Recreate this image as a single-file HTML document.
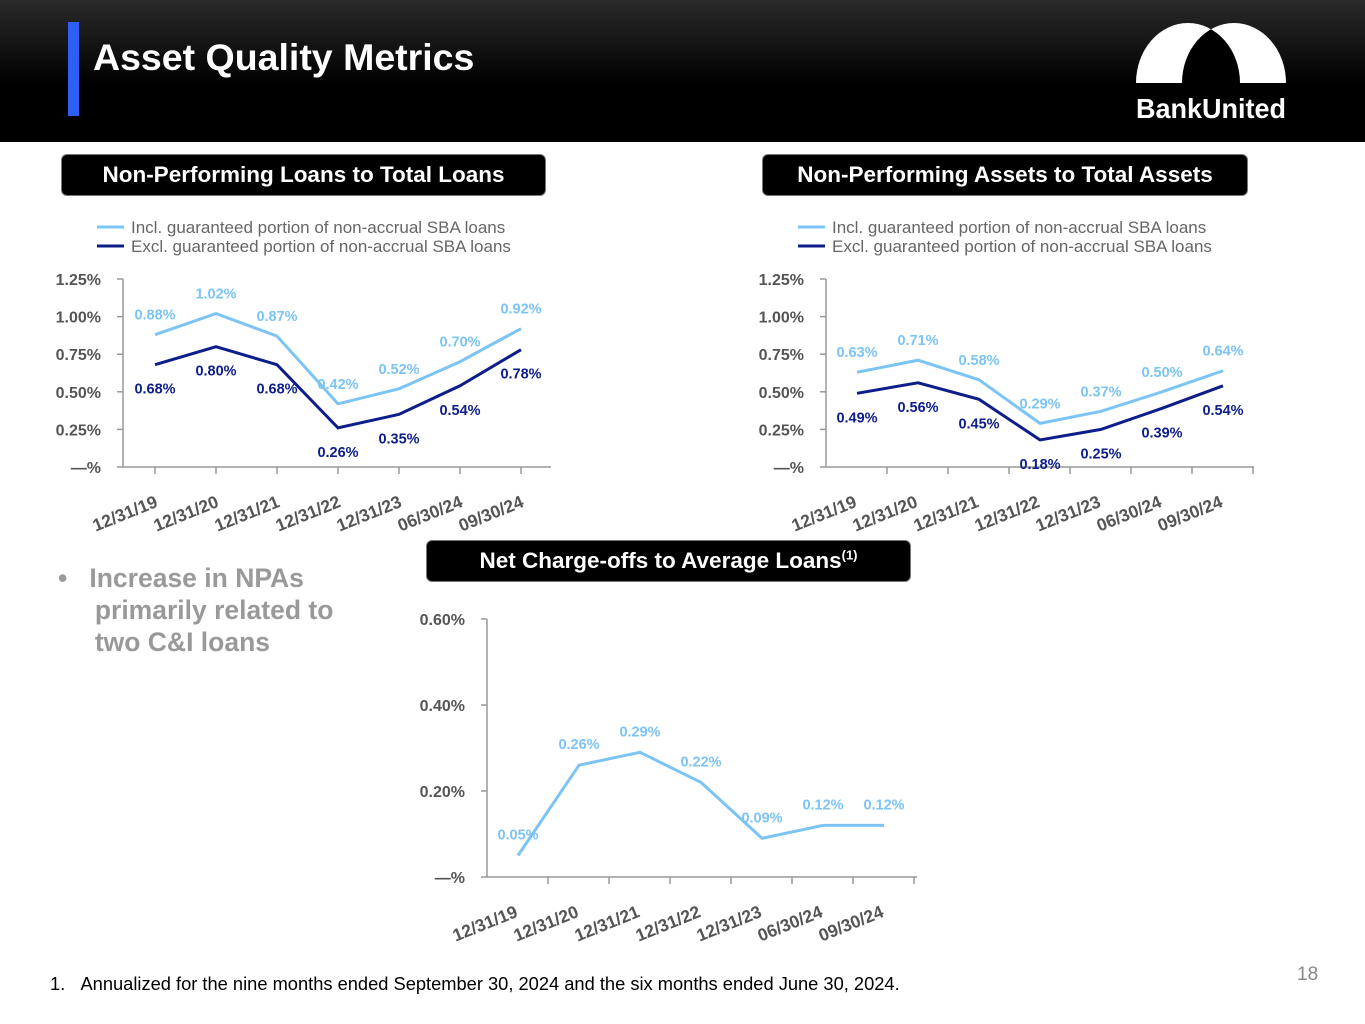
<!DOCTYPE html>
<html><head><meta charset="utf-8"><style>
body{margin:0;width:1365px;height:1024px;background:#fff;font-family:"Liberation Sans",Arial,sans-serif;position:relative;overflow:hidden}
.hdr{position:absolute;left:0;top:0;width:1365px;height:142px;background:linear-gradient(#2a2a2a,#000 60%)}
.bar{position:absolute;left:68px;top:22px;width:11px;height:94px;background:#2f5ef5}
.title{position:absolute;left:93px;top:36px;color:#fff;font-size:37.5px;font-weight:bold}
.box{position:absolute;height:42px;background:#000;border:1px solid #777;border-radius:6px;color:#fff;font-weight:bold;font-size:22.5px;text-align:center;line-height:40px;box-sizing:border-box}
.note{position:absolute;left:50px;top:973px;font-size:18.3px;color:#000}
.pg{position:absolute;left:1297px;top:964px;font-size:19px;color:#888}
.bul{position:absolute;left:58px;top:562px;font-size:26.5px;font-weight:bold;color:#999;line-height:32px}
svg{position:absolute;left:0;top:0}
</style></head><body>
<div class="hdr"></div>
<div class="bar"></div>
<div class="title">Asset Quality Metrics</div>
<svg width="1365" height="1024" style="pointer-events:none">
 <defs><clipPath id="lc"><path d="M1136 83 A52 60 0 0 1 1240 83 Z"/></clipPath></defs>
 <path d="M1136 83 A52 60 0 0 1 1240 83 Z" fill="#fff"/>
 <path d="M1182 83 A52 60 0 0 1 1286 83 Z" fill="#fff"/>
 <path d="M1182 83 A52 60 0 0 1 1286 83 Z" fill="#000" clip-path="url(#lc)"/>
 <text x="1136" y="118" fill="#fff" font-size="28" font-weight="bold" textLength="150" lengthAdjust="spacingAndGlyphs" font-family="Liberation Sans">BankUnited</text>
</svg>
<div class="box" style="left:61px;top:154px;width:485px">Non-Performing Loans to Total Loans</div>
<div class="box" style="left:762px;top:154px;width:486px">Non-Performing Assets to Total Assets</div>
<div class="box" style="left:426px;top:540px;width:485px">Net Charge-offs to Average Loans<sup style="font-size:13px;line-height:0">(1)</sup></div>
<div class="bul">•&nbsp;&nbsp;&nbsp;Increase in NPAs<br>&nbsp;&nbsp;&nbsp;&nbsp;&nbsp;primarily related to<br>&nbsp;&nbsp;&nbsp;&nbsp;&nbsp;two C&amp;I loans</div>
<div class="note">1.&nbsp;&nbsp;&nbsp;Annualized for the nine months ended September 30, 2024 and the six months ended June 30, 2024.</div>
<div class="pg">18</div>
<svg id="charts" width="1365" height="1024"></svg>
<script>
const categories=["12/31/19","12/31/20","12/31/21","12/31/22","12/31/23","06/30/24","09/30/24"];
const nplIncl=[0.88,1.02,0.87,0.42,0.52,0.70,0.92];
const nplExcl=[0.68,0.80,0.68,0.26,0.35,0.54,0.78];
const npaIncl=[0.63,0.71,0.58,0.29,0.37,0.50,0.64];
const npaExcl=[0.49,0.56,0.45,0.18,0.25,0.39,0.54];
const ncoVals=[0.05,0.26,0.29,0.22,0.09,0.12,0.12];
const ticks125=[0,0.25,0.5,0.75,1.0,1.25];
const tickLabels125=["—%","0.25%","0.50%","0.75%","1.00%","1.25%"];
const ticks60=[0,0.2,0.4,0.6];
const tickLabels60=["—%","0.20%","0.40%","0.60%"];
const LIGHT="#7cc4f4",DARK="#0d1d8a";
const S=document.getElementById('charts');const NS="http://www.w3.org/2000/svg";
function mk(t,a,txt){const e=document.createElementNS(NS,t);for(const k in a)e.setAttribute(k,a[k]);if(txt!==undefined)e.textContent=txt;S.appendChild(e);return e;}
function chart(o){
 const x0=o.x0,y0=o.y0,step=61;
 const yS=v=>y0-(v/o.max)*o.h;
 const xS=i=>x0+o.first+i*step;
 const ax=mk('line',{x1:x0,y1:y0-o.h,x2:x0,y2:y0,stroke:'#999','stroke-width':1.5});
 
 const xa=mk('line',{x1:x0,y1:y0,x2:o.xEnd,y2:y0,stroke:'#999','stroke-width':1.5});
 
 o.ticks.forEach((v,i)=>{
  mk('line',{x1:x0-6,y1:yS(v),x2:x0,y2:yS(v),stroke:'#999','stroke-width':1.5});
  const t=mk('text',{x:x0-22,y:yS(v)+6,'text-anchor':'end','font-size':16,'font-weight':'bold',fill:'#555'},o.tickLabels[i]);
  
 });
 categories.forEach((c,i)=>{
  const tx=o.tickAtPoint?xS(i):x0+(i+1)*step;
  mk('line',{x1:tx,y1:y0,x2:tx,y2:y0+7,stroke:'#999','stroke-width':1.5});
  const lx=xS(i)+(o.tickAtPoint?0:-3),ly=y0+40;
  const t=mk('text',{x:lx,y:ly,'text-anchor':'end','font-size':17.5,'font-weight':'bold',fill:'#555',transform:`rotate(-22 ${lx} ${ly-10})`},c);
  
 });
 o.series.forEach(s=>{
  const p=mk('polyline',{points:s.vals.map((v,i)=>xS(i)+','+yS(v)).join(' '),fill:'none',stroke:s.color,'stroke-width':3});
  
  s.vals.forEach((v,i)=>{
   const t=mk('text',{x:xS(i),y:yS(v)+s.dy,'text-anchor':'middle','font-size':14.5,'font-weight':'bold',fill:s.color},v.toFixed(2)+'%');
   
  });
 });
 if(o.legend){
  [[LIGHT,"Incl. guaranteed portion of non-accrual SBA loans"],[DARK,"Excl. guaranteed portion of non-accrual SBA loans"]].forEach((l,i)=>{
   mk('line',{x1:o.legend-27,y1:227+i*19,x2:o.legend,y2:227+i*19,stroke:l[0],'stroke-width':3});
   const t=mk('text',{x:o.legend+7,y:233+i*19,'font-size':17,fill:'#666'},l[1]);
   
  });
 }
}
chart({id:'npl',x0:123,y0:467,h:188,max:1.25,first:32,xEnd:551,tickAtPoint:true,ticks:ticks125,tickLabels:tickLabels125,legend:124,
 series:[{name:'npl-incl-line',vals:nplIncl,color:LIGHT,dy:-15},{name:'npl-excl-line',vals:nplExcl,color:DARK,dy:29}]});
chart({id:'npa',x0:826,y0:467,h:188,max:1.25,first:31,xEnd:1254,tickAtPoint:false,ticks:ticks125,tickLabels:tickLabels125,legend:825,
 series:[{name:'npa-incl-line',vals:npaIncl,color:LIGHT,dy:-15},{name:'npa-excl-line',vals:npaExcl,color:DARK,dy:29}]});
chart({id:'nco',x0:487,y0:877,h:258,max:0.6,first:31,xEnd:917,tickAtPoint:false,ticks:ticks60,tickLabels:tickLabels60,
 series:[{name:'nco-line',vals:ncoVals,color:LIGHT,dy:-16}]});
</script>
</body></html>
